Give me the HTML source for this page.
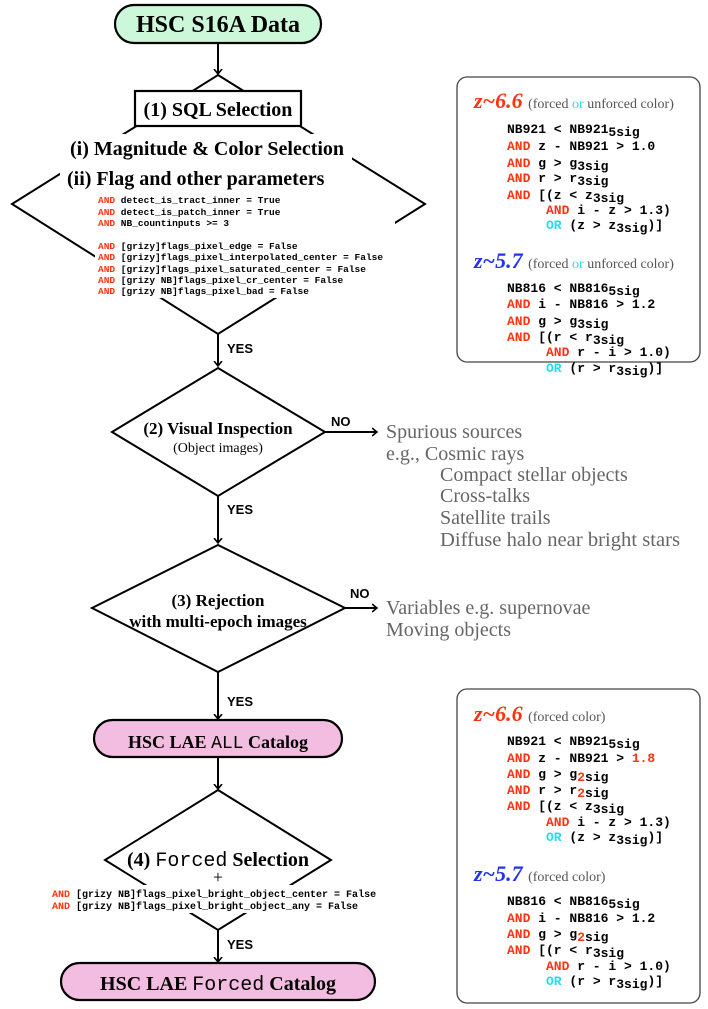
<!DOCTYPE html>
<html><head><meta charset="utf-8"><style>
body{margin:0;background:#fff;}
svg{display:block;}
.t{font-family:"Liberation Serif",serif;font-weight:bold;fill:#000;}
.m{font-family:"Liberation Mono",monospace;font-weight:bold;}
.g{font-family:"Liberation Serif",serif;fill:#666;font-size:20px;}
.y{font-family:"Liberation Sans",sans-serif;font-weight:bold;font-size:13px;}
.r{fill:#ff3311;}
.c{fill:#22ddee;}
</style></head><body>
<svg width="708" height="1009" viewBox="0 0 708 1009" xmlns="http://www.w3.org/2000/svg">
<defs><marker id="a" markerWidth="10" markerHeight="10" refX="5" refY="5" orient="auto" markerUnits="userSpaceOnUse"><path d="M0,1 L5,5 L0,9" fill="none" stroke="#000" stroke-width="1.6"/></marker></defs>
<g stroke="#000" stroke-width="2" fill="none">
<rect x="115" y="5" width="206" height="38" rx="19" fill="#ccf7d8" stroke-width="2.2"/>
<line x1="218" y1="43" x2="218" y2="74" marker-end="url(#a)"/>
<polygon points="218,75 425,204 218,334 12,204"/>
<line x1="218" y1="334" x2="218" y2="366" marker-end="url(#a)"/>
<polygon points="218,368 325,432 218,496 112,432"/>
<line x1="325" y1="432" x2="377" y2="432" marker-end="url(#a)"/>
<line x1="218" y1="496" x2="218" y2="543" marker-end="url(#a)"/>
<polygon points="218,545 345,608 218,672 92,608"/>
<line x1="345" y1="608" x2="377" y2="608" marker-end="url(#a)"/>
<line x1="218" y1="672" x2="218" y2="719" marker-end="url(#a)"/>
<rect x="94" y="720" width="248" height="37" rx="18.5" fill="#f2bde0" stroke-width="2.2"/>
<line x1="218" y1="757" x2="218" y2="789" marker-end="url(#a)"/>
<polygon points="218,790 331,860 218,930 105,860"/>
<line x1="218" y1="930" x2="218" y2="962" marker-end="url(#a)"/>
<rect x="61" y="963" width="314" height="37" rx="18.5" fill="#f2bde0" stroke-width="2.2"/>
</g>
<rect x="60" y="134" width="292" height="60" fill="#fff"/>
<rect x="95" y="195" width="300" height="103" fill="#fff"/>
<rect x="50" y="885" width="340" height="28" fill="#fff"/>
<rect x="135" y="91" width="166" height="35" fill="#fff" stroke="#000" stroke-width="2.2"/>

<text class="t" x="218" y="32" font-size="24" text-anchor="middle">HSC S16A Data</text>
<text class="t" x="218" y="116" font-size="20" text-anchor="middle">(1) SQL Selection</text>
<text class="t" x="70" y="155" font-size="20">(i)  Magnitude &amp; Color Selection</text>
<text class="t" x="67" y="185" font-size="20">(ii) Flag and other parameters</text>
<g class="m" font-size="9.5" fill="#000">
<text x="98" y="203"><tspan class="r">AND</tspan> detect_is_tract_inner = True</text>
<text x="98" y="215"><tspan class="r">AND</tspan> detect_is_patch_inner = True</text>
<text x="98" y="226"><tspan class="r">AND</tspan> NB_countinputs &gt;= 3</text>
<text x="98" y="249"><tspan class="r">AND</tspan> [grizy]flags_pixel_edge = False</text>
<text x="98" y="260"><tspan class="r">AND</tspan> [grizy]flags_pixel_interpolated_center = False</text>
<text x="98" y="272"><tspan class="r">AND</tspan> [grizy]flags_pixel_saturated_center = False</text>
<text x="98" y="283"><tspan class="r">AND</tspan> [grizy NB]flags_pixel_cr_center = False</text>
<text x="98" y="294"><tspan class="r">AND</tspan> [grizy NB]flags_pixel_bad = False</text>
</g>
<text class="y" x="227" y="353">YES</text>
<text class="t" x="218" y="434" font-size="17" text-anchor="middle">(2) Visual Inspection</text>
<text x="218" y="452" font-size="14" text-anchor="middle" font-family="Liberation Serif,serif">(Object images)</text>
<text class="y" x="331" y="426">NO</text>
<text class="g" x="386" y="438">Spurious sources</text>
<text class="g" x="386" y="460">e.g., Cosmic rays</text>
<text class="g" x="440" y="481">Compact stellar objects</text>
<text class="g" x="440" y="502">Cross-talks</text>
<text class="g" x="440" y="524">Satellite trails</text>
<text class="g" x="440" y="546" textLength="240" lengthAdjust="spacingAndGlyphs">Diffuse halo near bright stars</text>
<text class="y" x="227" y="514">YES</text>
<text class="t" x="218" y="606" font-size="17" text-anchor="middle">(3) Rejection</text>
<text class="t" x="218" y="627" font-size="17" text-anchor="middle">with multi-epoch images</text>
<text class="y" x="350" y="598">NO</text>
<text class="g" x="386" y="614">Variables e.g. supernovae</text>
<text class="g" x="386" y="636">Moving objects</text>
<text class="y" x="227" y="706">YES</text>
<text class="t" x="218" y="748" font-size="18" text-anchor="middle">HSC LAE <tspan font-family="Liberation Mono,monospace" font-weight="normal">ALL</tspan> Catalog</text>
<text class="t" x="218" y="866" font-size="20" text-anchor="middle">(4) <tspan font-family="Liberation Mono,monospace" font-weight="normal">Forced</tspan> Selection</text>
<text x="218" y="883" font-size="18" text-anchor="middle" font-family="Liberation Serif,serif">+</text>
<g class="m" font-size="10" fill="#000">
<text x="52" y="897"><tspan class="r">AND</tspan> [grizy NB]flags_pixel_bright_object_center = False</text>
<text x="52" y="909"><tspan class="r">AND</tspan> [grizy NB]flags_pixel_bright_object_any = False</text>
</g>
<text class="y" x="227" y="949">YES</text>
<text class="t" x="218" y="990" font-size="20" text-anchor="middle">HSC LAE <tspan font-family="Liberation Mono,monospace" font-weight="normal">Forced</tspan> Catalog</text>

<rect x="457" y="77" width="243" height="285" rx="10" fill="#fff" stroke="#444" stroke-width="1.3"/>
<rect x="457" y="689" width="243" height="314" rx="10" fill="#fff" stroke="#444" stroke-width="1.3"/>
<g font-family="Liberation Serif,serif">
<text x="474" y="108" font-size="22" font-weight="bold" font-style="italic" fill="#ff3311">z~6.6 <tspan font-size="14" font-weight="normal" font-style="normal" fill="#555">(forced <tspan class="c">or</tspan> unforced color)</tspan></text>
<text x="474" y="268" font-size="22" font-weight="bold" font-style="italic" fill="#2233ee">z~5.7 <tspan font-size="14" font-weight="normal" font-style="normal" fill="#555">(forced <tspan class="c">or</tspan> unforced color)</tspan></text>
<text x="474" y="721" font-size="22" font-weight="bold" font-style="italic" fill="#ff3311">z~6.6 <tspan font-size="14" font-weight="normal" font-style="normal" fill="#555">(forced color)</tspan></text>
<text x="474" y="881" font-size="22" font-weight="bold" font-style="italic" fill="#2233ee">z~5.7 <tspan font-size="14" font-weight="normal" font-style="normal" fill="#555">(forced color)</tspan></text>
</g>
<g class="m" font-size="13" fill="#000">
<text x="507" y="133">NB921 &lt; NB921<tspan dy="3">5sig</tspan></text>
<text x="507" y="150"><tspan class="r">AND</tspan> z - NB921 &gt; 1.0</text>
<text x="507" y="167"><tspan class="r">AND</tspan> g &gt; g<tspan dy="3">3sig</tspan></text>
<text x="507" y="182"><tspan class="r">AND</tspan> r &gt; r<tspan dy="3">3sig</tspan></text>
<text x="507" y="199"><tspan class="r">AND</tspan> [(z &lt; z<tspan dy="3">3sig</tspan></text>
<text x="546" y="214"><tspan class="r">AND</tspan> i - z &gt; 1.3)</text>
<text x="546" y="229"><tspan class="c">OR</tspan> (z &gt; z<tspan dy="3">3sig</tspan><tspan dy="-3">)]</tspan></text>

<text x="507" y="292">NB816 &lt; NB816<tspan dy="3">5sig</tspan></text>
<text x="507" y="308"><tspan class="r">AND</tspan> i - NB816 &gt; 1.2</text>
<text x="507" y="325"><tspan class="r">AND</tspan> g &gt; g<tspan dy="3">3sig</tspan></text>
<text x="507" y="341"><tspan class="r">AND</tspan> [(r &lt; r<tspan dy="3">3sig</tspan></text>
<text x="546" y="356"><tspan class="r">AND</tspan> r - i &gt; 1.0)</text>
<text x="546" y="372"><tspan class="c">OR</tspan> (r &gt; r<tspan dy="3">3sig</tspan><tspan dy="-3">)]</tspan></text>

<text x="507" y="745">NB921 &lt; NB921<tspan dy="3">5sig</tspan></text>
<text x="507" y="762"><tspan class="r">AND</tspan> z - NB921 &gt; <tspan class="r">1.8</tspan></text>
<text x="507" y="778"><tspan class="r">AND</tspan> g &gt; g<tspan dy="3" class="r">2</tspan>sig</text>
<text x="507" y="794"><tspan class="r">AND</tspan> r &gt; r<tspan dy="3" class="r">2</tspan>sig</text>
<text x="507" y="810"><tspan class="r">AND</tspan> [(z &lt; z<tspan dy="3">3sig</tspan></text>
<text x="546" y="826"><tspan class="r">AND</tspan> i - z &gt; 1.3)</text>
<text x="546" y="841"><tspan class="c">OR</tspan> (z &gt; z<tspan dy="3">3sig</tspan><tspan dy="-3">)]</tspan></text>

<text x="507" y="905">NB816 &lt; NB816<tspan dy="3">5sig</tspan></text>
<text x="507" y="922"><tspan class="r">AND</tspan> i - NB816 &gt; 1.2</text>
<text x="507" y="938"><tspan class="r">AND</tspan> g &gt; g<tspan dy="3" class="r">2</tspan>sig</text>
<text x="507" y="954"><tspan class="r">AND</tspan> [(r &lt; r<tspan dy="3">3sig</tspan></text>
<text x="546" y="970"><tspan class="r">AND</tspan> r - i &gt; 1.0)</text>
<text x="546" y="985"><tspan class="c">OR</tspan> (r &gt; r<tspan dy="3">3sig</tspan><tspan dy="-3">)]</tspan></text>
</g>
</svg>
</body></html>
